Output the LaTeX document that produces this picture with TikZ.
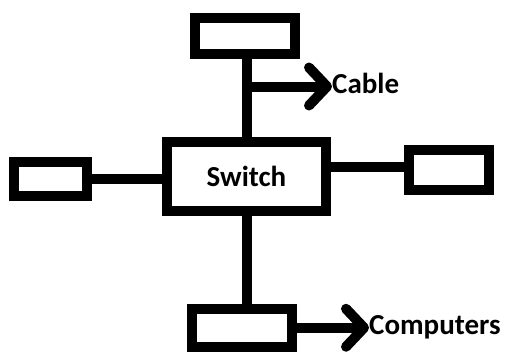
\documentclass[tikz,border=0pt]{standalone}
\usepackage{fontspec}
\setmainfont{Carlito}
\usetikzlibrary{arrows.meta}
\begin{document}
\begin{tikzpicture}[x=1pt,y=-1pt,
  box/.style={draw=black,line width=10pt,fill=white,inner sep=0pt,rectangle},
  wire/.style={draw=black,line width=10pt},
  arr/.style={wire,-{Straight Barb[length=18pt,width=38pt,round]}},
  lbl/.style={inner sep=0pt,anchor=west,font=\fontsize{29}{32}\selectfont\bfseries,text=black}]
\useasboundingbox[fill=white] (0,0) rectangle (505,351);
\node[box,minimum width=100pt,minimum height=36pt] (top) at (244.5,35.5) {};
\node[box,minimum width=159pt,minimum height=69pt] (sw) at (246.5,176.5) {\fontsize{29}{32}\selectfont\bfseries Switch};
\node[box,minimum width=72.5pt,minimum height=34pt] (left) at (50.25,179) {};
\node[box,minimum width=80.5pt,minimum height=39.5pt] (right) at (448.75,169.75) {};
\node[box,minimum width=100pt,minimum height=37.5pt] (bot) at (242,327.75) {};
\node[lbl] (cable) at (332,83) {Cable};
\node[lbl] (comp) at (369,327) {Computers};
\coordinate (cj) at (246,86.5);
\draw[wire] (sw.north) -- (sw.north |- top.south);
\draw[wire] (sw.south) -- (sw.south |- bot.north);
\draw[wire] (left.east) -- (left.east -| sw.west);
\draw[wire] ([yshift=3pt]right.west) -- ([yshift=3pt]right.west -| sw.east);
\draw[arr] (cj) -- (cj -| cable.west);
\draw[arr] (bot.east) -- (bot.east -| comp.west);
\end{tikzpicture}
\end{document}
